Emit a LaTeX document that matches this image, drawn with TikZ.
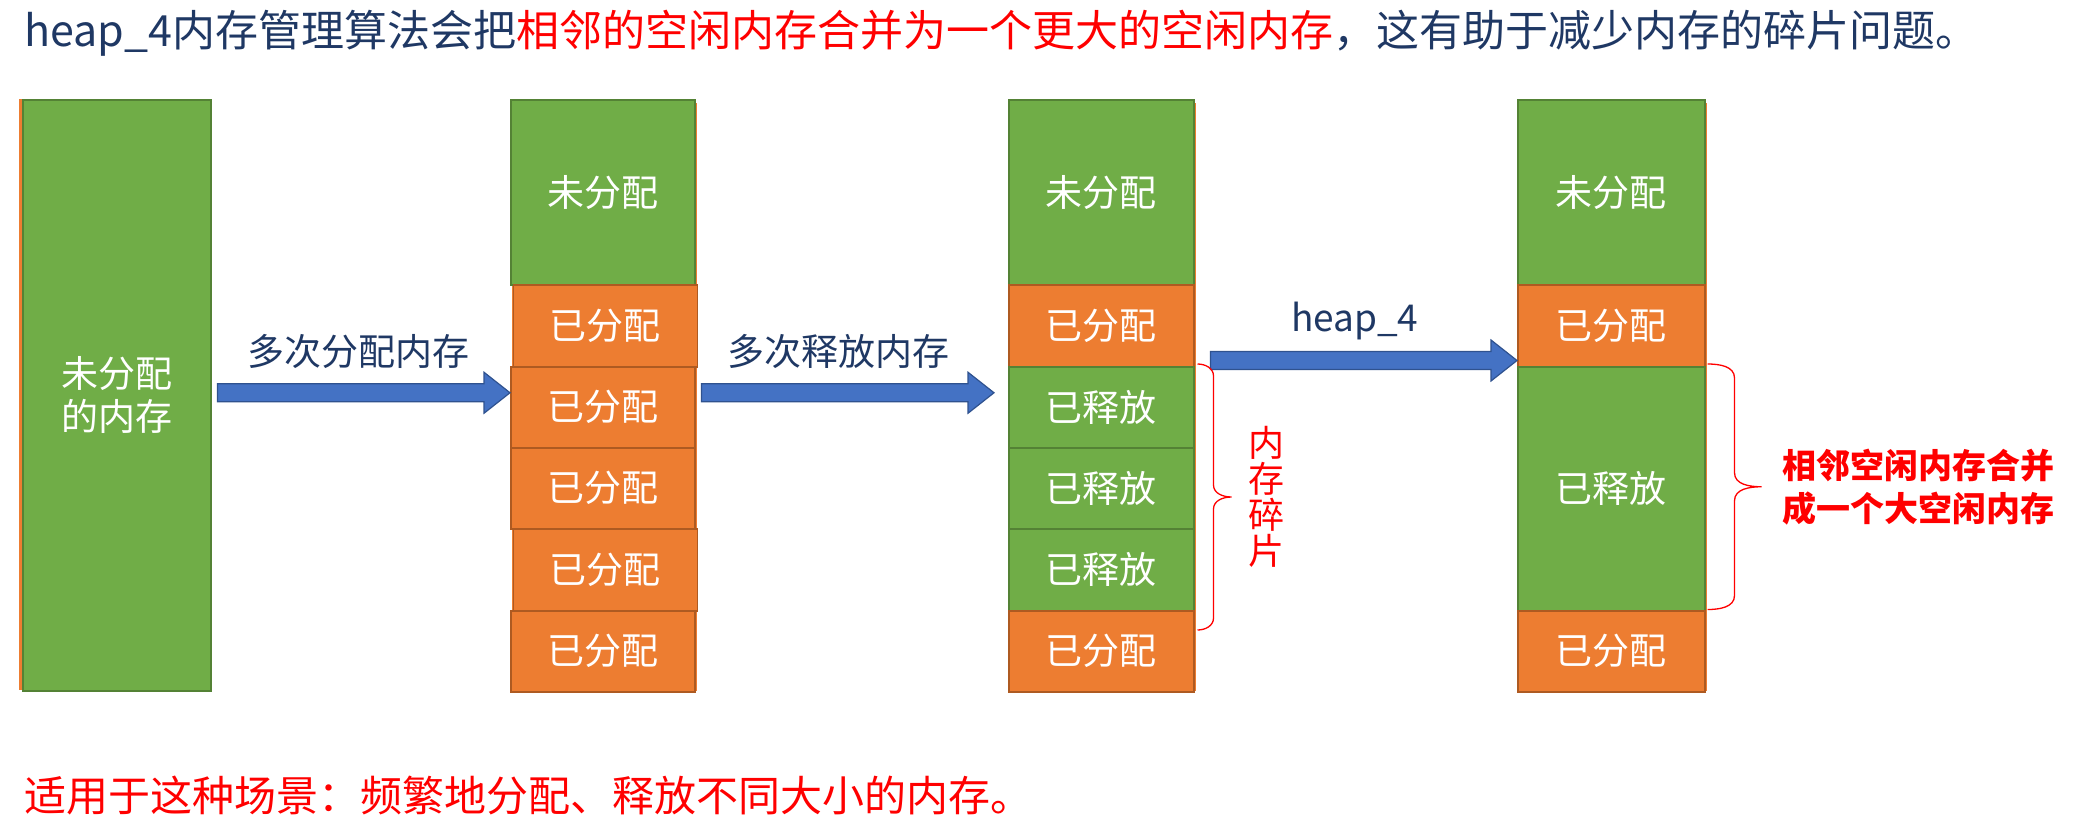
\documentclass[tikz,border=0pt]{standalone}
\usepackage{fontspec}
\setmainfont{Noto Sans CJK SC}
\usetikzlibrary{calc}
\definecolor{navy}{RGB}{31,56,100}
\definecolor{gfill}{RGB}{112,173,71}
\definecolor{gedge}{RGB}{84,130,53}
\definecolor{ofill}{RGB}{237,125,49}
\definecolor{oedge}{RGB}{174,90,33}
\definecolor{bfill}{RGB}{68,114,196}
\definecolor{bedge}{RGB}{47,82,143}
\definecolor{redtxt}{RGB}{255,0,0}
\tikzset{
  blk/.style={anchor=north west, inner sep=0pt, line width=1.5pt, text=white,
    font=\fontsize{37}{43}\selectfont, align=center},
  freeblk/.style={blk, fill=gfill, draw=gedge},
  usedblk/.style={blk, fill=ofill, draw=oedge},
  barrow/.style={fill=bfill, draw=bedge, line width=1.2pt},
  bracestyle/.style={draw=redtxt, line width=1.3pt},
  lbl/.style={anchor=base, inner sep=0pt, text=navy, font=\fontsize{37}{43}\selectfont},
}
\newcommand\blockarrow[2]{%
  \draw[barrow] let \p1=(#1), \p2=(#2) in
    (\x1,\y1+9pt) -- (\x2-26pt,\y1+9pt) -- (\x2-26pt,\y1+20.5pt) -- (\x2,\y1)
    -- (\x2-26pt,\y1-20.5pt) -- (\x2-26pt,\y1-9pt) -- (\x1,\y1-9pt) -- cycle;}
\begin{document}
\begin{tikzpicture}[x=1pt,y=-1pt]
\useasboundingbox (0,0) rectangle (2077,835);
% title
\node[anchor=base west, inner sep=0pt, font=\fontsize{43}{50}\selectfont] (title) at (24,46)
  {\textcolor{navy}{heap\_4内存管理算法会把}\textcolor{redtxt}{相邻的空闲内存合并为一个更大的空闲内存}\textcolor{navy}{，这有助于减少内存的碎片问题。}};
% column 1
\fill[ofill] (19,99) rectangle (200,690);
\node[freeblk, minimum width=188pt, minimum height=591pt] (c1) at (22,99) {未分配\\的内存};
% column 2
\fill[ofill] (512,103) rectangle (697,691);
\node[freeblk, minimum width=184pt, minimum height=185pt] (c2a) at (510,99) {未分配};
\node[usedblk, minimum width=184pt, minimum height=82pt] (c2b) at (512.5,284) {已分配};
\node[usedblk, minimum width=184pt, minimum height=81pt] (c2c) at (510,366) {已分配};
\node[usedblk, minimum width=184pt, minimum height=81pt] (c2d) at (510,447) {已分配};
\node[usedblk, minimum width=184pt, minimum height=82pt] (c2e) at (512.5,528) {已分配};
\node[usedblk, minimum width=184pt, minimum height=81pt] (c2f) at (510,610) {已分配};
% column 3
\fill[ofill] (1010,103) rectangle (1196,691);
\node[freeblk, minimum width=185pt, minimum height=185pt] (c3a) at (1008,99) {未分配};
\node[usedblk, minimum width=185pt, minimum height=82pt] (c3b) at (1008,284) {已分配};
\node[freeblk, minimum width=185pt, minimum height=81pt] (c3c) at (1008,366) {已释放};
\node[freeblk, minimum width=185pt, minimum height=81pt] (c3d) at (1008,447) {已释放};
\node[freeblk, minimum width=185pt, minimum height=82pt] (c3e) at (1008,528) {已释放};
\node[usedblk, minimum width=185pt, minimum height=81pt] (c3f) at (1008,610) {已分配};
% column 4
\fill[ofill] (1519,103) rectangle (1707,691);
\node[freeblk, minimum width=187pt, minimum height=185pt] (c4a) at (1517,99) {未分配};
\node[usedblk, minimum width=187pt, minimum height=82pt] (c4b) at (1517,284) {已分配};
\node[freeblk, minimum width=187pt, minimum height=244pt] (c4c) at (1517,366) {已释放};
\node[usedblk, minimum width=187pt, minimum height=81pt] (c4d) at (1517,610) {已分配};
% arrows
\coordinate (a1s) at ($(c1.east)+(6,-2.5)$);
\coordinate (a1e) at (a1s -| c2a.west);
\coordinate (a2s) at ($(a1s -| c2a.east)+(6,0)$);
\coordinate (a2e) at ($(a1s -| c3a.west)+(-14,0)$);
\coordinate (a3s) at ($(c3b.south east)+(16,-7)$);
\coordinate (a3e) at (a3s -| c4a.west);
\blockarrow{a1s}{a1e}
\blockarrow{a2s}{a2e}
\blockarrow{a3s}{a3e}
\node[lbl] (l1) at ($(a1s)!0.5!(a1e)+(-5,-27)$) {多次分配内存};
\node[lbl] (l2) at ($(a2s)!0.5!(a2e)+(-9,-27)$) {多次释放内存};
\node[lbl] (l3) at ($(a3s)!0.5!(a3e)+(-9,-29)$) {heap\_4};
% brace 1
\coordinate (b1t) at ($(c3c.north east)+(3,-2)$);
\coordinate (b1b) at ($(c3f.north east)+(3,20)$);
\coordinate (b1m) at ($(b1t)!0.5!(b1b)$);
\coordinate (b1tip) at ($(b1m)+(34,0)$);
\draw[bracestyle] (b1t) to[out=0,in=90] ($(b1t)+(16,12)$)
  -- ($(b1tip)+(-18,-12)$) to[out=-90,in=180] (b1tip)
  to[out=180,in=90] ($(b1tip)+(-18,12)$)
  -- ($(b1b)+(16,-12)$) to[out=-90,in=0] (b1b);
\node[inner sep=0pt, text=redtxt, align=center, font=\fontsize{36}{36}\selectfont] (frag) at ($(b1tip)+(35,0)$) {内\\存\\碎\\片};
% brace 2
\coordinate (b2t) at ($(c4c.north east)+(2,-2)$);
\coordinate (b2b) at ($(c4c.south east)+(2,-2)$);
\coordinate (b2m) at ($(b2t)!0.5!(b2b)$);
\coordinate (b2tip) at ($(b2m)+(54,0)$);
\draw[bracestyle] (b2t) to[out=0,in=90] ($(b2t)+(27,14)$)
  -- ($(b2tip)+(-27,-14)$) to[out=-90,in=180] (b2tip)
  to[out=180,in=90] ($(b2tip)+(-27,14)$)
  -- ($(b2b)+(27,-14)$) to[out=-90,in=0] (b2b);
\node[anchor=west, inner sep=0pt, text=redtxt, align=center, font=\bfseries\fontsize{34}{43}\selectfont] (merge) at ($(b2tip)+(21,0)$) {相邻空闲内存合并\\成一个大空闲内存};
% bottom note
\node[anchor=base west, inner sep=0pt, text=redtxt, font=\fontsize{42}{50}\selectfont] (note) at (24,811) {适用于这种场景：频繁地分配、释放不同大小的内存。};
\end{tikzpicture}
\end{document}
